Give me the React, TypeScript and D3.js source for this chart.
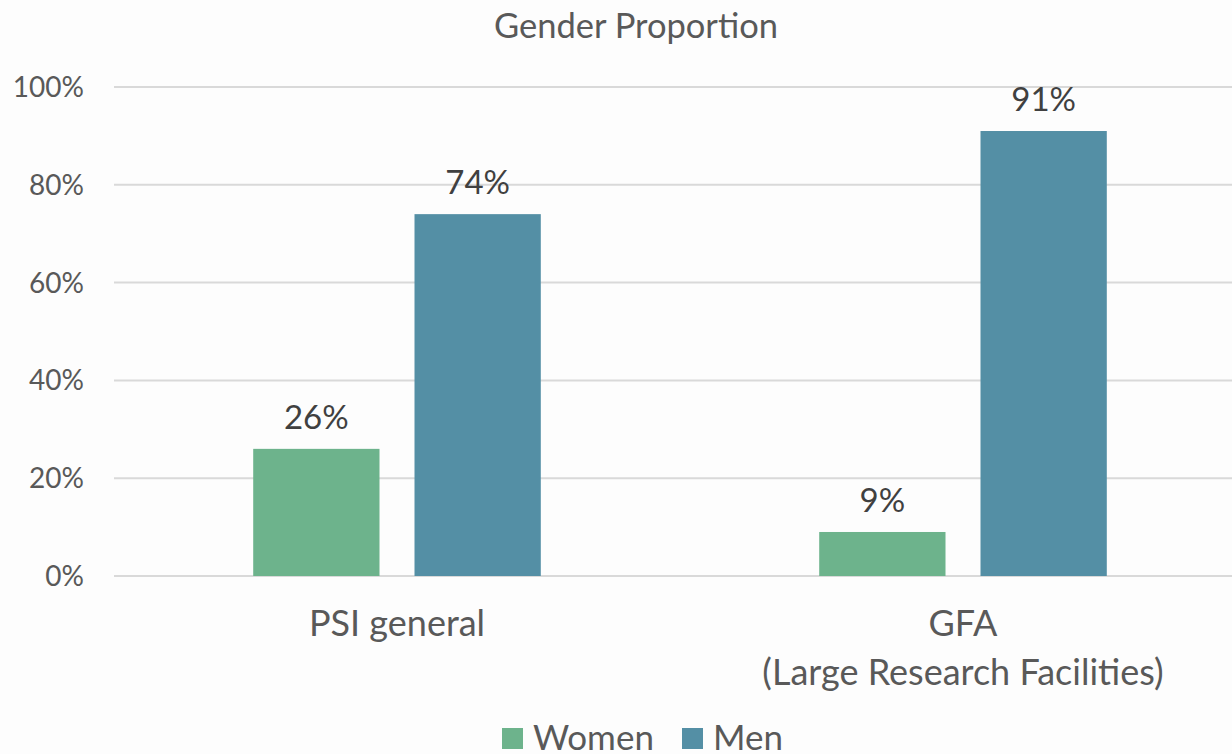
import React from "react";
import * as d3 from "d3";

const categories = ["PSI general", "GFA\n(Large Research Facilities)"];
const seriesNames = ["Women", "Men"];
const women = [26, 9];
const men = [74, 91];
const yTicks = [0, 20, 40, 60, 80, 100];
const colors = ["#6db38c", "#548fa5"];

const W = 1232;
const H = 754;
const FONT = "Lato, 'Open Sans', sans-serif";

export default function App() {
  const x0 = d3.scaleBand<string>().domain(categories).range([114, 1246]).paddingInner(0).paddingOuter(0);
  const x1 = d3.scaleBand<string>().domain(seriesNames).range([0, x0.bandwidth()]).paddingInner(0.217).paddingOuter(0.863);
  const y = d3.scaleLinear().domain([0, 100]).range([576, 87]);
  const values = [women, men];

  return (
    <svg width={W} height={H} style={{ position: "absolute", left: 0, top: 0, background: "#fdfdfd" }} fontFamily={FONT}>
      <rect x={0} y={0} width={W} height={H} fill="#fdfdfd" />
      <text x={636} y={38} textAnchor="middle" fontSize={34.5} fill="#595959">Gender Proportion</text>
      {yTicks.map((t) => (
        <g key={t}>
          <line x1={114} x2={W} y1={y(t)} y2={y(t)} stroke="#d9d9d9" strokeWidth={2} />
          <text x={84} y={y(t)} dy="0.36em" textAnchor="end" fontSize={28} fill="#595959">{t}%</text>
        </g>
      ))}
      {categories.map((c, ci) => (
        <g key={c}>
          {seriesNames.map((s, si) => {
            const v = values[si][ci];
            const bx = (x0(c) as number) + (x1(s) as number);
            return (
              <g key={s}>
                <rect x={bx} y={y(v)} width={x1.bandwidth()} height={y(0) - y(v)} fill={colors[si]} />
                <text x={bx + x1.bandwidth() / 2} y={y(v) - 20} textAnchor="middle" fontSize={33} fill="#404040">{v}%</text>
              </g>
            );
          })}
          {c.split("\n").map((line, li) => (
            <text key={li} x={(x0(c) as number) + x0.bandwidth() / 2} y={636 + li * 49} textAnchor="middle" fontSize={36} fill="#595959">{line}</text>
          ))}
        </g>
      ))}
      {seriesNames.map((s, si) => {
        const lx = [502, 682][si];
        return (
          <g key={s}>
            <rect x={lx} y={728} width={21} height={21} fill={colors[si]} />
            <text x={lx + 31} y={750} fontSize={35} fill="#595959">{s}</text>
          </g>
        );
      })}
    </svg>
  );
}
